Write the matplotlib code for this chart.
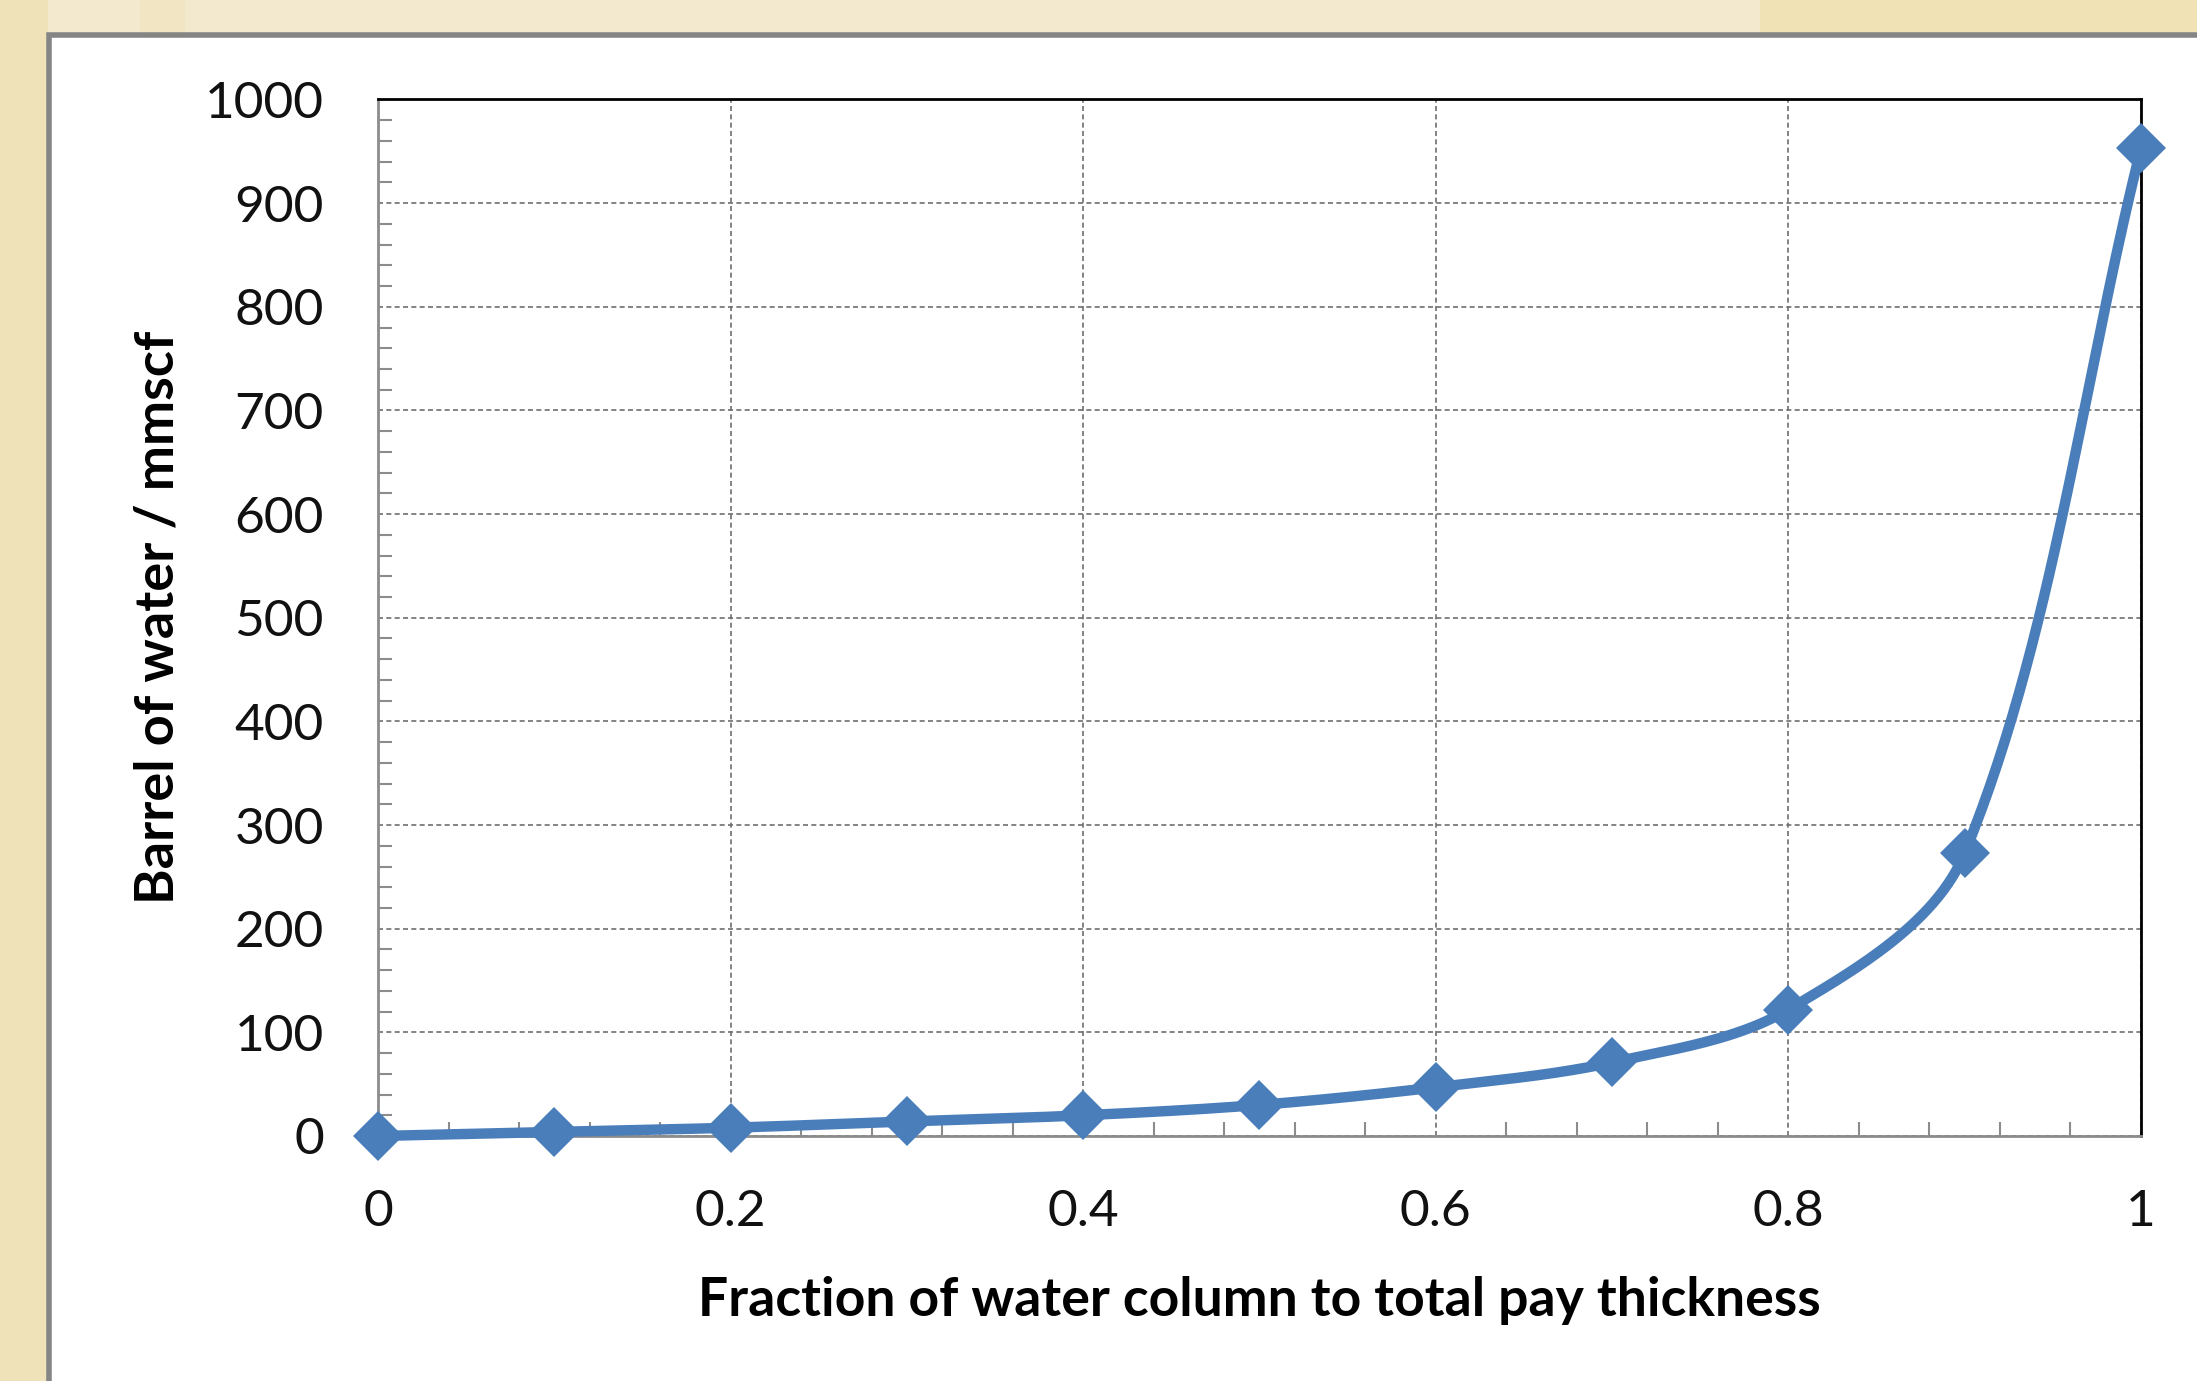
import numpy as np
import matplotlib
matplotlib.use("Agg")
import matplotlib.pyplot as plt
from matplotlib.patches import Rectangle
from matplotlib.ticker import MultipleLocator

# ---- data ----
fraction = [0.0, 0.1, 0.2, 0.3, 0.4, 0.5, 0.6, 0.7, 0.8, 0.9, 1.0]
barrels = [0, 4, 8, 14, 20, 30, 47, 71, 122, 273, 953]
x_ticks = [0, 0.2, 0.4, 0.6, 0.8, 1]
x_tick_labels = ["0", "0.2", "0.4", "0.6", "0.8", "1"]
y_ticks = [0, 100, 200, 300, 400, 500, 600, 700, 800, 900, 1000]
x_label = "Fraction of water column to total pay thickness"
y_label = "Barrel of water / mmscf"

W, H = 2197, 1381
DPI = 100
fig = plt.figure(figsize=(W / DPI, H / DPI), dpi=DPI)
fig.patch.set_facecolor("#F3E9CF")

def px_rect(x0, y0, x1, y1, **kw):
    r = Rectangle((x0 / W, 1 - y1 / H), (x1 - x0) / W, (y1 - y0) / H,
                  transform=fig.transFigure, **kw)
    fig.patches.append(r)
    return r

# subtle background stripes
px_rect(0, 0, 48, H, facecolor="#F0E2B8", edgecolor="none", zorder=0)
px_rect(140, 0, 185, 35, facecolor="#F1E5C3", edgecolor="none", zorder=0)
px_rect(1760, 0, W, 35, facecolor="#F0E2B5", edgecolor="none", zorder=0)

# white panel with gray border
px_rect(49, 35, W + 20, H + 20, facecolor="white", edgecolor="#858585",
        linewidth=4, zorder=1)

AX_L, AX_R, AX_T, AX_B = 378, 2141, 99.5, 1136
ax = fig.add_axes([AX_L / W, 1 - AX_B / H, (AX_R - AX_L) / W, (AX_B - AX_T) / H])
ax.set_zorder(2)
ax.set_facecolor("white")

ax.set_xlim(0, 1)
ax.set_ylim(0, 1000)

# Excel-style smoothed line: Bezier segments computed in screen space
sx = (AX_R - AX_L) / 1.0
sy = (AX_B - AX_T) / 1000.0
P = np.column_stack([np.array(fraction) * sx, np.array(barrels) * sy])
n = len(P)
f = 1.0 / 3.0
curve = []
t = np.linspace(0, 1, 60)[:, None]
for i in range(n - 1):
    p1, p2 = P[i], P[i + 1]
    p0 = P[i - 1] if i > 0 else p1
    p3 = P[i + 2] if i + 2 < n else p2
    d01 = np.linalg.norm(p1 - p0)
    d12 = np.linalg.norm(p2 - p1)
    d23 = np.linalg.norm(p3 - p2)
    c1 = p1 + (p2 - p0) * f * d12 / (d01 + d12)
    c2 = p2 - (p3 - p1) * f * d12 / (d12 + d23)
    seg = ((1 - t) ** 3) * p1 + 3 * ((1 - t) ** 2) * t * c1 + 3 * (1 - t) * t ** 2 * c2 + t ** 3 * p2
    curve.append(seg)
curve = np.vstack(curve)
cx, cy = curve[:, 0] / sx, curve[:, 1] / sy

color = "#4A7EBB"
ax.plot(cx, cy, color=color, linewidth=7.5, solid_capstyle="round",
        solid_joinstyle="round", zorder=3, clip_on=False)
ax.plot(fraction, barrels, linestyle="none", marker="D", markersize=25,
        color=color, markeredgewidth=0, zorder=4, clip_on=False)

ax.set_xticks(x_ticks)
ax.set_xticklabels(x_tick_labels)
ax.set_yticks(y_ticks)
ax.xaxis.set_minor_locator(MultipleLocator(0.04))
ax.yaxis.set_minor_locator(MultipleLocator(20))

ax.grid(True, which="major", color="#6E6E6E", linestyle=(0, (3, 2)), linewidth=1.2)
ax.tick_params(which="major", direction="in", length=0, labelsize=37,
               labelcolor="#111111")
ax.tick_params(axis="y", which="major", pad=39)
ax.tick_params(axis="x", which="major", pad=38)
ax.tick_params(which="minor", direction="in", length=10, width=1.5, color="#8C8C8C")

for s in ["top", "right"]:
    ax.spines[s].set_color("black")
    ax.spines[s].set_linewidth(2)
for s in ["left", "bottom"]:
    ax.spines[s].set_color("#8C8C8C")
    ax.spines[s].set_linewidth(2)

fam = ["Lato", "DejaVu Sans"]
for lab in ax.get_xticklabels() + ax.get_yticklabels():
    lab.set_family(fam)

ax.set_xlabel(x_label, fontsize=38.5, fontweight="bold", family=fam, labelpad=30)
ax.set_ylabel(y_label, fontsize=39, fontweight="bold", family=fam, labelpad=16)

fig.savefig("out.png", dpi=DPI, facecolor=fig.get_facecolor())
